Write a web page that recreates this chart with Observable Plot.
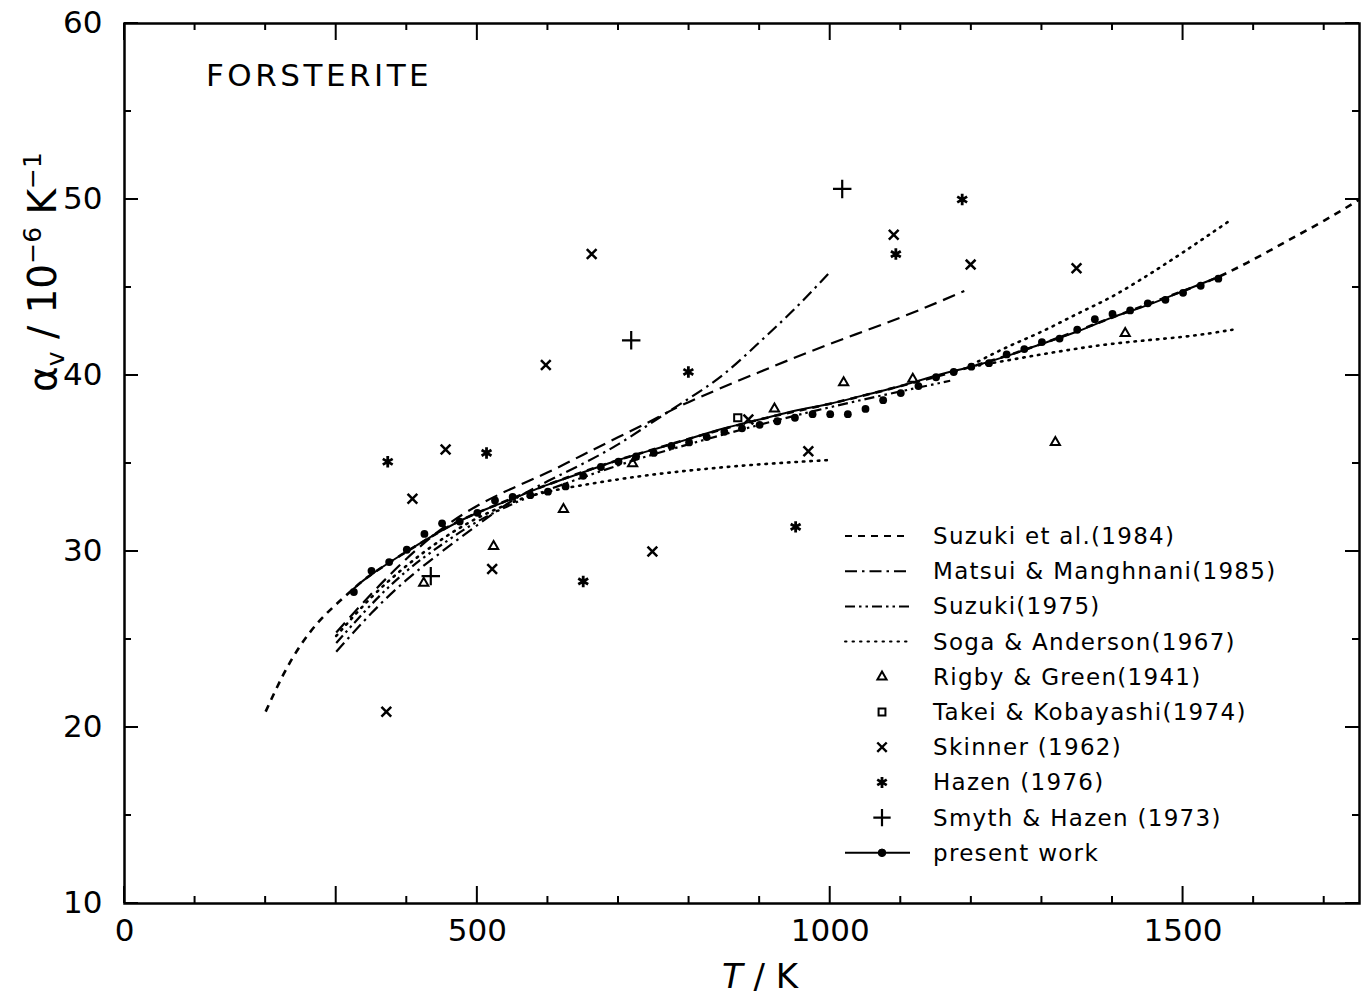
<!DOCTYPE html>
<html><head><meta charset="utf-8">
<script src="https://cdn.jsdelivr.net/npm/d3@7"></script>
<script src="https://cdn.jsdelivr.net/npm/@observablehq/plot@0.6"></script>
<style>body{margin:0;background:#fff}#chart{width:1364px;height:996px}</style>
</head><body><div id="chart"></div>
<script>
// ---------- data ----------
const xLabelTicks = [0, 500, 1000, 1500];
const xLongTicks = [0, 300, 500, 1000, 1500];
const xMinorTicks = d3.range(0, 1751, 100);
const yLabelTicks = [10, 20, 30, 40, 50, 60];
const yMinorTicks = d3.range(10, 61, 5);

// present work (dots) and its fitted line
const presentT = [325,350,375,400,425,450,475,500,525,550,575,600,625,650,675,700,725,750,775,800,825,850,875,900,925,950,975,1000,1025,1050,1075,1100,1125,1150,1175,1200,1225,1250,1275,1300,1325,1350,1375,1400,1425,1450,1475,1500,1525,1550];
const presentV = [27.7,28.9,29.4,30.1,31.0,31.6,31.7,32.2,32.9,33.1,33.2,33.4,33.7,34.3,34.8,35.1,35.4,35.6,36.0,36.2,36.5,36.8,37.0,37.2,37.4,37.6,37.8,37.8,37.8,38.1,38.6,39.0,39.4,39.9,40.2,40.5,40.7,41.2,41.5,41.9,42.1,42.6,43.2,43.5,43.7,44.1,44.3,44.7,45.1,45.5];
const fitT = [325,350,400,450,500,550,600,650,700,750,800,850,900,950,1000,1050,1100,1150,1200,1250,1300,1350,1400,1450,1500,1550];
const fitV = [27.9,28.7,30.0,31.2,32.2,33.0,33.8,34.5,35.2,35.8,36.4,37.0,37.5,38.0,38.4,38.9,39.4,40.0,40.5,41.1,41.8,42.5,43.3,44.0,44.8,45.6];

// Suzuki et al. (1984): two dashed curves
const suzuki84aT = [200,225,250,275,300,325,350,400,450,500,600,700,800,900,1000,1100,1200,1300,1400,1500,1550,1600,1650,1700,1750];
const suzuki84aV = [20.9,23.0,24.7,26.0,27.0,27.9,28.7,30.0,31.2,32.2,33.8,35.2,36.4,37.5,38.4,39.4,40.5,41.8,43.3,44.8,45.6,46.6,47.7,48.8,50.0];
const suzuki84bT = [300,350,400,450,500,550,600,650,700,750,800,900,1000,1100,1190];
const suzuki84bV = [25.4,27.6,29.6,31.3,32.6,33.6,34.5,35.5,36.5,37.5,38.5,40.2,41.8,43.3,44.8];
// Matsui & Manghnani (1985)
const matsuiT = [300,350,400,450,500,550,600,650,700,750,800,850,900,950,1000];
const matsuiV = [24.3,26.5,28.4,30.0,31.5,32.9,34.0,35.0,36.1,37.4,38.7,40.1,41.9,43.8,45.9];
// Suzuki (1975)
const suzuki75T = [300,350,400,450,500,550,600,700,800,900,1000,1100,1170];
const suzuki75V = [24.8,27.0,28.9,30.4,31.7,32.7,33.5,34.9,36.1,37.2,38.2,39.1,39.7];
// Soga & Anderson (1967): three dotted curves
const sogaLowT = [300,350,400,450,500,550,600,700,800,900,1000];
const sogaLowV = [25.2,27.4,29.2,30.7,31.9,32.8,33.4,34.1,34.6,34.95,35.2];
const sogaHighAT = [1200,1300,1400,1500,1570];
const sogaHighAV = [40.5,41.2,41.8,42.2,42.6];
const sogaHighBT = [1200,1250,1300,1350,1400,1450,1500,1570];
const sogaHighBV = [40.6,41.6,42.5,43.5,44.5,45.7,47.0,48.9];

// point data sets
const rigbyT = [424,523,622,720,921,1019,1117,1319,1418];
const rigbyV = [28.2,30.3,32.4,35.0,38.1,39.6,39.8,36.2,42.4];
const takeiT = [869];
const takeiV = [37.6];
const skinnerT = [371,408,455,521,597,662,748,884,969,1090,1199,1349];
const skinnerV = [20.9,33.0,35.8,29.0,40.6,46.9,30.0,37.5,35.7,48.0,46.3,46.1];
const hazenT = [373,513,650,799,951,1093,1187];
const hazenV = [35.1,35.6,28.3,40.2,31.4,46.9,50.0];
const smythT = [434,718,1017];
const smythV = [28.6,42.0,50.6];

const legendLabels = ["Suzuki et al.(1984)","Matsui & Manghnani(1985)","Suzuki(1975)","Soga & Anderson(1967)","Rigby & Green(1941)","Takei & Kobayashi(1974)","Skinner (1962)","Hazen (1976)","Smyth & Hazen (1973)","present work"];

// ---------- build tables ----------
const zipTV = (T, V) => T.map((t, i) => ({T: t, v: V[i]}));
const FONT = "DejaVu Sans";
const dashes = {
  suzuki84: "7,6",
  suzuki84long: "13,7",
  matsui: "12,5,2.5,5",
  suzuki75: "10,4,2.5,4,2.5,4",
  soga: "1.5,6"
};

function curve(T, V, dash, sw = 2.2) {
  return Plot.line(zipTV(T, V), {x: "T", y: "v", curve: "natural", stroke: "black", strokeWidth: sw, strokeDasharray: dash, strokeLinecap: dash === dashes.soga ? "round" : "butt"});
}

function decorations(index, scales, values, dims) {
  const L = dims.marginLeft, R = dims.width - dims.marginRight;
  const T = dims.marginTop, B = dims.height - dims.marginBottom;
  const g = d3.create("svg:g").attr("stroke", "black").attr("fill", "none");
  for (const t of xMinorTicks) {
    const len = xLongTicks.includes(t) ? 17 : 7;
    const px = scales.x(t);
    g.append("line").attr("x1", px).attr("x2", px).attr("y1", B).attr("y2", B - len).attr("stroke-width", 2);
    g.append("line").attr("x1", px).attr("x2", px).attr("y1", T).attr("y2", T + len).attr("stroke-width", 2);
  }
  for (const v of yMinorTicks) {
    const len = yLabelTicks.includes(v) ? 14 : 7;
    const py = scales.y(v);
    g.append("line").attr("x1", L).attr("x2", L + len).attr("y1", py).attr("y2", py).attr("stroke-width", 2);
    g.append("line").attr("x1", R).attr("x2", R - len).attr("y1", py).attr("y2", py).attr("stroke-width", 2);
  }
  const txt = g.append("g").attr("stroke", "none").attr("fill", "black").attr("font-family", FONT).attr("text-anchor", "start");
  // title inside plot
  txt.append("text").attr("x", 206).attr("y", 86).attr("font-size", 31).attr("letter-spacing", 3.5).attr("text-anchor", "start").text("FORSTERITE");
  // x axis title
  const xt = txt.append("text").attr("x", 760).attr("y", 988).attr("font-size", 34).attr("text-anchor", "middle");
  xt.append("tspan").attr("font-style", "italic").text("T");
  xt.append("tspan").text(" / K");
  // y axis title
  const yt = txt.append("text").attr("transform", "translate(56,272) rotate(-90)").attr("font-size", 39).attr("text-anchor", "middle");
  yt.append("tspan").text("α");
  yt.append("tspan").attr("font-size", 25).attr("dy", 8).text("v");
  yt.append("tspan").attr("dy", -8).text(" / 10");
  yt.append("tspan").attr("font-size", 25).attr("dy", -15).text("−6");
  yt.append("tspan").attr("dy", 15).text(" K");
  yt.append("tspan").attr("font-size", 25).attr("dy", -15).text("−1");

  // legend
  const lx0 = 845, lx1 = 910, mx = 882, tx = 933, y0 = 536, dy = 35.2;
  const lg = g.append("g");
  const lineDash = [dashes.suzuki84, dashes.matsui, dashes.suzuki75, dashes.soga];
  lineDash.forEach((d, i) => {
    lg.append("line").attr("x1", lx0).attr("x2", lx1).attr("y1", y0 + i * dy).attr("y2", y0 + i * dy)
      .attr("stroke-width", 2).attr("stroke-dasharray", d).attr("stroke-linecap", d === dashes.soga ? "round" : "butt");
  });
  const sym = [
    [d3.symbolTriangle2, 60, 2], [d3.symbolSquare2, 60, 2], [d3.symbolTimes, 60, 2.4],
    [d3.symbolAsterisk, 85, 2.8], [d3.symbolPlus, 100, 2.2]
  ];
  sym.forEach(([s, size, sw], j) => {
    const i = j + 4;
    lg.append("path").attr("d", d3.symbol(s, size)()).attr("transform", `translate(${mx},${y0 + i * dy})`).attr("stroke-width", sw);
  });
  const yp = y0 + 9 * dy;
  lg.append("line").attr("x1", lx0).attr("x2", lx1).attr("y1", yp).attr("y2", yp).attr("stroke-width", 2);
  lg.append("circle").attr("cx", mx).attr("cy", yp).attr("r", 3.8).attr("fill", "black");
  legendLabels.forEach((lab, i) => {
    txt.append("text").attr("x", tx).attr("y", y0 + i * dy).attr("dy", "0.35em").attr("font-size", 23).attr("letter-spacing", 1.3).attr("text-anchor", "start").text(lab);
  });
  return g.node();
}

const chart = Plot.plot({
  width: 1364, height: 996,
  marginLeft: 124, marginRight: 5, marginTop: 23, marginBottom: 93,
  x: {domain: [0, 1750]},
  y: {domain: [10, 60]},
  style: {fontFamily: FONT, fontSize: "31px", color: "black", background: "white"},
  marks: [
    Plot.axisX({ticks: xLabelTicks, tickFormat: d3.format("d"), tickSize: 0, tickPadding: 15, label: null, fontSize: 31}),
    Plot.axisY({ticks: yLabelTicks, tickFormat: d3.format("d"), tickSize: 0, tickPadding: 22, label: null, fontSize: 31}),
    curve(suzuki84aT, suzuki84aV, dashes.suzuki84, 2.6),
    curve(suzuki84bT, suzuki84bV, dashes.suzuki84long),
    curve(matsuiT, matsuiV, dashes.matsui),
    curve(suzuki75T, suzuki75V, dashes.suzuki75),
    curve(sogaLowT, sogaLowV, dashes.soga, 2.6),
    curve(sogaHighAT, sogaHighAV, dashes.soga, 2.6),
    curve(sogaHighBT, sogaHighBV, dashes.soga, 2.6),
    Plot.line(zipTV(fitT, fitV), {x: "T", y: "v", curve: "natural", stroke: "black", strokeWidth: 2}),
    Plot.dot(zipTV(presentT, presentV), {x: "T", y: "v", r: 3.9, fill: "black", stroke: "none"}),
    Plot.dot(zipTV(rigbyT, rigbyV), {x: "T", y: "v", symbol: "triangle2", r: 4.4, stroke: "black", strokeWidth: 2}),
    Plot.dot(zipTV(takeiT, takeiV), {x: "T", y: "v", symbol: "square2", r: 4.6, stroke: "black", strokeWidth: 2}),
    Plot.dot(zipTV(skinnerT, skinnerV), {x: "T", y: "v", symbol: "times", r: 4.5, stroke: "black", strokeWidth: 2.5}),
    Plot.dot(zipTV(hazenT, hazenV), {x: "T", y: "v", symbol: "asterisk", r: 5.4, stroke: "black", strokeWidth: 2.8}),
    Plot.dot(zipTV(smythT, smythV), {x: "T", y: "v", symbol: "plus", r: 6, stroke: "black", strokeWidth: 2.2}),
    Plot.frame({stroke: "black", strokeWidth: 2.5}),
    decorations
  ]
});
document.getElementById("chart").appendChild(chart);
</script></body></html>
